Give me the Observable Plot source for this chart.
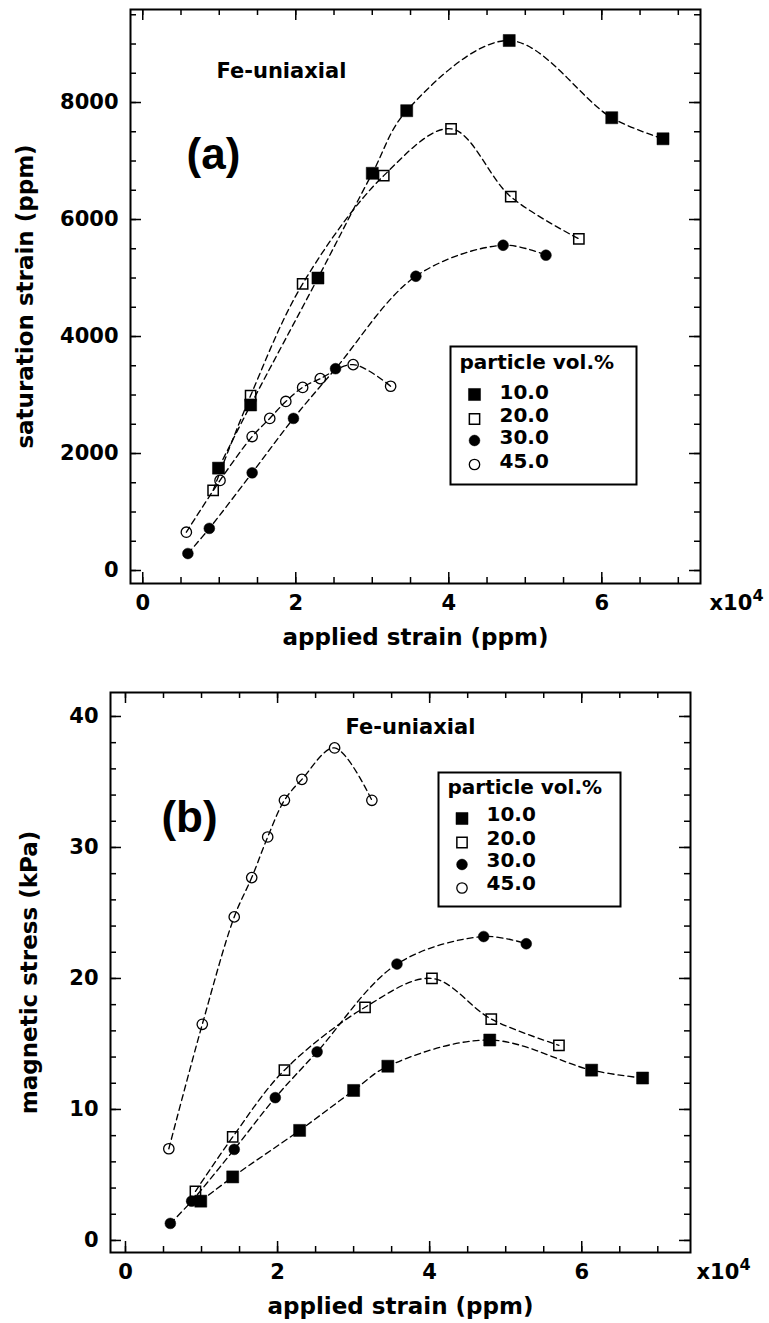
<!DOCTYPE html>
<html><head><meta charset="utf-8">
<script src="https://cdn.jsdelivr.net/npm/d3@7"></script>
<script src="https://cdn.jsdelivr.net/npm/@observablehq/plot@0.6"></script>
<style>
body{margin:0;background:#fff;}
#wrap{position:relative;width:769px;height:1323px;overflow:hidden;background:#fff}
#wrap svg{position:absolute;left:0}
</style></head><body><div id="wrap"></div>
<script>
// ---- data ----
const volumes = ["10.0", "20.0", "30.0", "45.0"];
// applied strain (ppm) for each particle vol.%
const strain10 = [9900, 14100, 22900, 30000, 34500, 47900, 61300, 68000];
const strain20 = [9200, 14100, 20900, 31500, 40300, 48100, 57000];
const strain30 = [5900, 8700, 14300, 19700, 25200, 35700, 47100, 52700];
const strain45 = [5700, 10100, 14300, 16600, 18700, 20900, 23200, 27500, 32400];
// (a) saturation strain (ppm)
const sat10 = [1750, 2830, 5000, 6790, 7860, 9060, 7740, 7380];
const sat20 = [1370, 2990, 4900, 6750, 7550, 6390, 5670];
const sat30 = [290, 720, 1670, 2600, 3450, 5030, 5560, 5390];
const sat45 = [655, 1540, 2290, 2600, 2890, 3130, 3280, 3520, 3150];
// (b) magnetic stress (kPa)
const stress10 = [3.0, 4.85, 8.4, 11.45, 13.3, 15.3, 13.0, 12.4];
const stress20 = [3.75, 7.9, 13.0, 17.8, 20.0, 16.9, 14.9];
const stress30 = [1.3, 3.0, 6.95, 10.9, 14.4, 21.1, 23.2, 22.65];
const stress45 = [7.0, 16.5, 24.7, 27.7, 30.8, 33.6, 35.2, 37.6, 33.6];
// ticks
const xTicks = [0, 20000, 40000, 60000];
const xTickLabels = ["0", "2", "4", "6"];
const xMinorTicks = d3.range(0, 70001, 5000);
const satTicks = [0, 2000, 4000, 6000, 8000];
const satMinorTicks = d3.range(0, 9501, 500);
const stressTicks = [0, 10, 20, 30, 40];
const stressMinorTicks = d3.range(0, 41, 2);
const legendTitle = "particle vol.%";
const panelTitle = "Fe-uniaxial";
const xTitle = "applied strain (ppm)";

// ---- styles ----
const symStyle = {
  "10.0": {symbol: "square", fill: "black", stroke: "black", strokeWidth: 0.5, r: 6.8},
  "20.0": {symbol: "square", fill: "none", stroke: "black", strokeWidth: 1.5, r: 5.8},
  "30.0": {symbol: "circle", fill: "black", stroke: "black", strokeWidth: 0.5, r: 5.4},
  "45.0": {symbol: "circle", fill: "none", stroke: "black", strokeWidth: 1.3, r: 5.2}
};
const strains = [strain10, strain20, strain30, strain45];

function rowsFor(ys) {
  return volumes.flatMap((v, k) => strains[k].map((x, i) => ({vol: v, x, y: ys[k][i]})));
}

function panel(cfg) {
  const {top, height, mL, mR, mT, mB, xDomain, yDomain, yTicks, yMinor, rows, yTitle, yTitleDx,
         tag, tagDx, tagDy, feDx, feDy, x10Dx, leg} = cfg;
  const fw = 769 - mL - mR, fh = height - mT - mB;
  const marks = [];
  // inward ticks on all four sides
  const tk = {stroke: "black", strokeWidth: 1.5};
  marks.push(
    Plot.tickX(xMinorTicks, {x: d => d, insetBottom: fh - 6, ...tk}),
    Plot.tickX(xMinorTicks, {x: d => d, insetTop: fh - 6, ...tk}),
    Plot.tickX(xTicks, {x: d => d, insetBottom: fh - 11, ...tk}),
    Plot.tickX(xTicks, {x: d => d, insetTop: fh - 11, ...tk}),
    Plot.tickY(yMinor, {y: d => d, insetRight: fw - 6, ...tk}),
    Plot.tickY(yMinor, {y: d => d, insetLeft: fw - 6, ...tk}),
    Plot.tickY(yTicks, {y: d => d, insetRight: fw - 11, ...tk}),
    Plot.tickY(yTicks, {y: d => d, insetLeft: fw - 11, ...tk}),
    Plot.axisX(xTicks, {anchor: "bottom", tickSize: 0, tickPadding: 12, label: null,
      tickFormat: d => xTickLabels[xTicks.indexOf(d)]}),
    Plot.axisY(yTicks, {anchor: "left", tickSize: 0, tickPadding: 12, label: null,
      tickFormat: d => String(d)}),
    Plot.frame({stroke: "black", strokeWidth: 2})
  );
  // curves and points
  marks.push(Plot.line(rows, {x: "x", y: "y", z: "vol", curve: "catmull-rom",
    stroke: "black", strokeWidth: 1.35, strokeDasharray: "6,4"}));
  for (const v of volumes) {
    marks.push(Plot.dot(rows.filter(d => d.vol === v), {x: "x", y: "y", ...symStyle[v]}));
  }
  // texts
  marks.push(
    Plot.text([panelTitle], {text: d => d, frameAnchor: "top-left", dx: feDx, dy: feDy,
      textAnchor: "start", lineAnchor: "bottom", fontSize: 21}),
    Plot.text([tag], {text: d => d, frameAnchor: "top-left", dx: tagDx, dy: tagDy,
      textAnchor: "middle", lineAnchor: "bottom", fontSize: 44, fontFamily: "Liberation Sans, Arial, sans-serif"}),
    Plot.text([xTitle], {text: d => d, frameAnchor: "bottom", dy: 61, lineAnchor: "bottom", fontSize: 23}),
    Plot.text([yTitle], {text: d => d, frameAnchor: "left", dx: yTitleDx, rotate: -90,
      textAnchor: "middle", lineAnchor: "bottom", fontSize: 23}),
    Plot.text(["x10"], {text: d => d, frameAnchor: "bottom-right", dx: x10Dx, dy: 12,
      textAnchor: "start", lineAnchor: "top", fontSize: 21}),
    Plot.text(["4"], {text: d => d, frameAnchor: "bottom-right", dx: x10Dx + 43, dy: 6,
      textAnchor: "start", lineAnchor: "top", fontSize: 16})
  );
  // legend
  marks.push(
    Plot.frame({insetLeft: leg.l, insetTop: leg.t, insetRight: leg.r, insetBottom: leg.b,
      stroke: "black", strokeWidth: 2}),
    Plot.text([legendTitle], {text: d => d, frameAnchor: "top-left", dx: leg.titleDx, dy: leg.titleDy,
      textAnchor: "start", lineAnchor: "bottom", fontSize: 20})
  );
  volumes.forEach((v, i) => {
    marks.push(
      Plot.dot([v], {frameAnchor: "top-left", dx: leg.symDx, dy: leg.symDy[i], ...symStyle[v]}),
      Plot.text([v], {text: d => d, frameAnchor: "top-left", dx: leg.textDx, dy: leg.textDy[i],
        textAnchor: "start", lineAnchor: "bottom", fontSize: 20})
    );
  });
  const svg = Plot.plot({
    width: 769, height,
    marginLeft: mL, marginRight: mR, marginTop: mT, marginBottom: mB,
    x: {domain: xDomain},
    y: {domain: yDomain},
    style: {fontFamily: "'DejaVu Sans', sans-serif", fontWeight: "bold", fontSize: "21px",
      color: "black", background: "white", overflow: "visible"},
    marks
  });
  svg.style.top = top + "px";
  document.getElementById("wrap").appendChild(svg);
}

panel({
  top: 0, height: 660, mL: 130, mR: 69, mT: 9, mB: 77,
  xDomain: [-1600, 72900], yDomain: [-222, 9590],
  yTicks: satTicks, yMinor: satMinorTicks, rows: rowsFor([sat10, sat20, sat30, sat45]),
  yTitle: "saturation strain (ppm)", yTitleDx: -98,
  tag: "(a)", tagDx: 83, tagDy: 159, feDx: 86, feDy: 68, x10Dx: 9,
  leg: {l: 320, t: 337, r: 64, b: 99, titleDx: 329, titleDy: 359,
        textDx: 369, textDy: [389, 412, 434, 458], symDx: 344, symDy: [385, 409.5, 431, 455]}
});
panel({
  top: 660, height: 663, mL: 110, mR: 79, mT: 32, mB: 71,
  xDomain: [-1970, 74300], yDomain: [-0.92, 41.83],
  yTicks: stressTicks, yMinor: stressMinorTicks, rows: rowsFor([stress10, stress20, stress30, stress45]),
  yTitle: "magnetic stress (kPa)", yTitleDx: -74,
  tag: "(b)", tagDx: 79, tagDy: 139, feDx: 235, feDy: 41, x10Dx: 6,
  leg: {l: 328, t: 80, r: 70, b: 346, titleDx: 337, titleDy: 101,
        textDx: 376, textDy: [128.7, 152, 174.7, 197], symDx: 351.5, symDy: [126, 150, 172, 195.5]}
});
</script></body></html>
